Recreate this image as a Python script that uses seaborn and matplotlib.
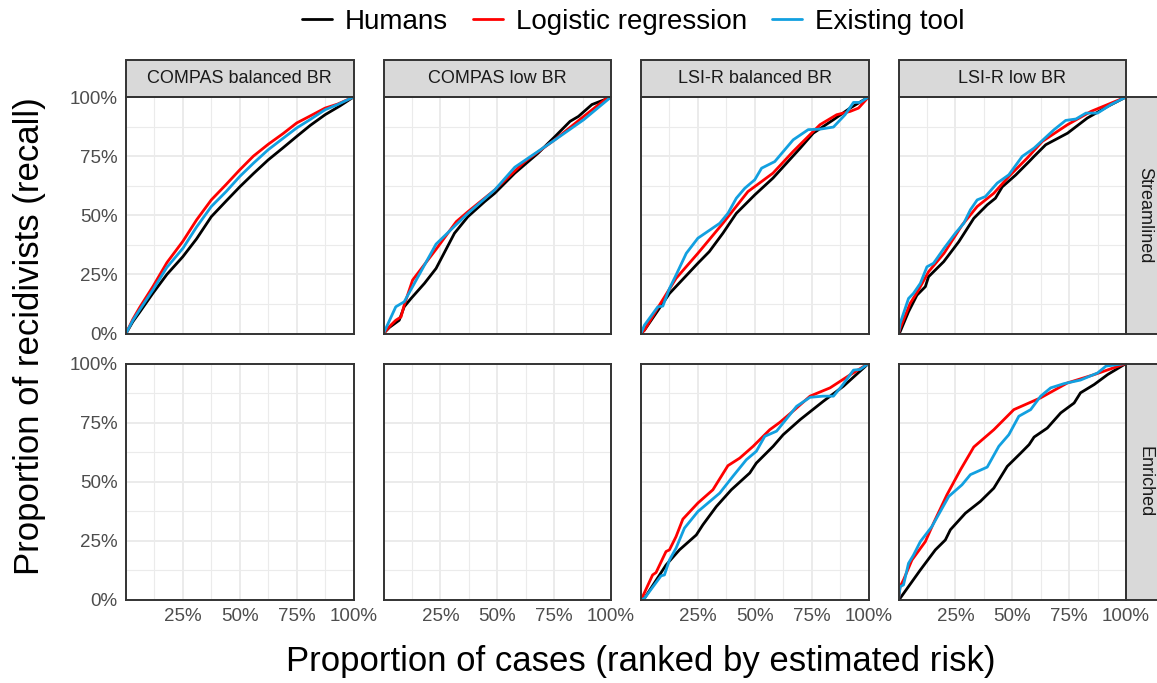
import matplotlib.pyplot as plt
import matplotlib.patches as mpatches
from matplotlib.lines import Line2D
import numpy as np
import pandas as pd
import seaborn as sns


# 1. categories
datasets = ['COMPAS balanced BR', 'COMPAS low BR', 'LSI-R balanced BR', 'LSI-R low BR']
conditions = ['Streamlined', 'Enriched']
methods = ['Humans', 'Logistic regression', 'Existing tool']
colors = ['#000000', '#FF0000', '#12A0E0']

# 2. curves (x = proportion of cases, y = recall)
#    COMPAS balanced BR, Streamlined
cb_s_hum_x = [0, 0.03, 0.06, 0.118, 0.18, 0.25, 0.31, 0.375, 0.44, 0.5, 0.56, 0.625, 0.69, 0.75, 0.81, 0.875, 0.94, 1]
cb_s_hum_y = [0, 0.05, 0.09, 0.17, 0.25, 0.325, 0.40, 0.494, 0.56, 0.62, 0.676, 0.734, 0.785, 0.833, 0.88, 0.925, 0.962, 1]
cb_s_log_x = [0, 0.03, 0.06, 0.118, 0.18, 0.25, 0.31, 0.375, 0.44, 0.5, 0.56, 0.625, 0.69, 0.75, 0.8, 0.875, 0.93, 1]
cb_s_log_y = [0, 0.06, 0.11, 0.198, 0.30, 0.39, 0.48, 0.565, 0.63, 0.692, 0.75, 0.80, 0.845, 0.89, 0.915, 0.953, 0.97, 1]
cb_s_ext_x = [0, 0.03, 0.06, 0.118, 0.18, 0.25, 0.31, 0.375, 0.44, 0.5, 0.56, 0.625, 0.69, 0.75, 0.81, 0.875, 0.93, 1]
cb_s_ext_y = [0, 0.055, 0.10, 0.184, 0.28, 0.36, 0.45, 0.537, 0.60, 0.664, 0.72, 0.777, 0.825, 0.869, 0.905, 0.946, 0.968, 1]

#    COMPAS low BR, Streamlined
cl_s_hum_x = [0, 0.025, 0.069, 0.091, 0.121, 0.18, 0.231, 0.312, 0.371, 0.445, 0.489, 0.577, 0.68, 0.754, 0.82, 0.857, 0.916, 0.975, 1]
cl_s_hum_y = [0, 0.025, 0.056, 0.113, 0.148, 0.212, 0.275, 0.424, 0.494, 0.558, 0.593, 0.678, 0.763, 0.833, 0.897, 0.918, 0.968, 0.99, 1]
cl_s_log_x = [0, 0.032, 0.054, 0.077, 0.091, 0.128, 0.231, 0.32, 0.371, 0.489, 0.621, 0.754, 0.88, 0.975, 1]
cl_s_log_y = [0, 0.035, 0.056, 0.07, 0.12, 0.226, 0.356, 0.473, 0.515, 0.607, 0.727, 0.82, 0.918, 0.99, 1]
cl_s_ext_x = [0, 0.054, 0.091, 0.231, 0.371, 0.489, 0.577, 0.754, 0.88, 1]
cl_s_ext_y = [0, 0.113, 0.134, 0.378, 0.508, 0.607, 0.703, 0.819, 0.904, 1]

#    LSI-R balanced BR, Streamlined
lb_s_hum_x = [0, 0.015, 0.125, 0.25, 0.30, 0.36, 0.419, 0.5, 0.58, 0.7, 0.757, 0.846, 0.919, 1]
lb_s_hum_y = [0, 0.014, 0.169, 0.297, 0.346, 0.424, 0.508, 0.586, 0.657, 0.784, 0.847, 0.904, 0.953, 1]
lb_s_log_x = [0, 0.015, 0.081, 0.154, 0.25, 0.36, 0.47, 0.58, 0.669, 0.787, 0.86, 0.919, 0.956, 1]
lb_s_log_y = [0, 0.014, 0.12, 0.233, 0.339, 0.466, 0.6, 0.678, 0.77, 0.883, 0.925, 0.939, 0.953, 1]
lb_s_ext_x = [0, 0.015, 0.037, 0.074, 0.096, 0.125, 0.154, 0.199, 0.25, 0.346, 0.382, 0.419, 0.456, 0.5,
              0.53, 0.588, 0.669, 0.735, 0.787, 0.846, 0.897, 0.934, 0.963, 1]
lb_s_ext_y = [0, 0.035, 0.064, 0.113, 0.116, 0.19, 0.247, 0.339, 0.403, 0.466, 0.508, 0.572, 0.614, 0.65,
              0.699, 0.727, 0.819, 0.862, 0.864, 0.873, 0.925, 0.977, 0.977, 1]

#    LSI-R low BR, Streamlined
ll_s_hum_x = [0, 0.007, 0.044, 0.081, 0.118, 0.132, 0.199, 0.265, 0.331, 0.39, 0.426, 0.456, 0.515, 0.574,
              0.596, 0.647, 0.743, 0.83, 0.919, 1]
ll_s_hum_y = [0, 0.007, 0.092, 0.162, 0.198, 0.24, 0.304, 0.388, 0.487, 0.544, 0.572, 0.62, 0.67, 0.727,
              0.749, 0.798, 0.847, 0.911, 0.96, 1]
ll_s_log_x = [0, 0.007, 0.051, 0.088, 0.132, 0.2, 0.28, 0.346, 0.419, 0.485, 0.566, 0.632, 0.743, 0.846, 0.919, 1]
ll_s_log_y = [0, 0.021, 0.127, 0.184, 0.261, 0.339, 0.459, 0.537, 0.593, 0.664, 0.742, 0.812, 0.883, 0.939, 0.968, 1]
ll_s_ext_x = [0, 0.007, 0.022, 0.044, 0.066, 0.096, 0.125, 0.154, 0.2, 0.25, 0.287, 0.316, 0.346, 0.382,
              0.434, 0.485, 0.544, 0.596, 0.684, 0.735, 0.78, 0.824, 0.875, 0.934, 1]
ll_s_ext_y = [0, 0.042, 0.085, 0.148, 0.17, 0.212, 0.282, 0.297, 0.36, 0.424, 0.466, 0.523, 0.565, 0.579,
              0.636, 0.671, 0.749, 0.784, 0.862, 0.901, 0.907, 0.932, 0.932, 0.968, 1]

#    LSI-R balanced BR, Enriched
lb_e_hum_x = [0, 0.015, 0.11, 0.169, 0.243, 0.272, 0.331, 0.397, 0.478, 0.507, 0.581, 0.625, 0.7, 0.801, 0.89, 1]
lb_e_hum_y = [0, 0.007, 0.148, 0.212, 0.275, 0.318, 0.395, 0.466, 0.537, 0.579, 0.65, 0.699, 0.763, 0.84, 0.904, 1]
lb_e_log_x = [0, 0.007, 0.051, 0.066, 0.11, 0.125, 0.154, 0.184, 0.25, 0.316, 0.382, 0.434, 0.493, 0.566,
              0.61, 0.676, 0.743, 0.831, 0.919, 1]
lb_e_log_y = [0, 0.014, 0.106, 0.116, 0.205, 0.212, 0.268, 0.342, 0.41, 0.466, 0.568, 0.6, 0.65, 0.72,
              0.751, 0.805, 0.862, 0.897, 0.952, 1]
lb_e_ext_x = [0, 0.015, 0.088, 0.103, 0.125, 0.154, 0.191, 0.25, 0.346, 0.404, 0.463, 0.507, 0.544, 0.596,
              0.684, 0.743, 0.8, 0.846, 0.882, 0.934, 0.963, 1]
lb_e_ext_y = [0, 0.007, 0.102, 0.106, 0.169, 0.219, 0.304, 0.374, 0.452, 0.523, 0.593, 0.629, 0.692, 0.714,
              0.819, 0.857, 0.862, 0.862, 0.904, 0.972, 0.975, 1]

#    LSI-R low BR, Enriched
ll_e_hum_x = [0, 0.007, 0.096, 0.162, 0.206, 0.228, 0.294, 0.36, 0.419, 0.478, 0.537, 0.574, 0.596, 0.654,
              0.713, 0.772, 0.8, 0.86, 0.919, 1]
ll_e_hum_y = [0, 0.007, 0.127, 0.212, 0.254, 0.297, 0.367, 0.417, 0.473, 0.565, 0.621, 0.657, 0.689, 0.727,
              0.791, 0.833, 0.876, 0.911, 0.953, 1]
ll_e_log_x = [0, 0.007, 0.022, 0.059, 0.118, 0.154, 0.213, 0.272, 0.331, 0.419, 0.507, 0.625, 0.743, 0.86, 1]
ll_e_log_y = [0, 0.056, 0.085, 0.169, 0.247, 0.325, 0.445, 0.55, 0.647, 0.72, 0.805, 0.855, 0.918, 0.953, 1]
ll_e_ext_x = [0, 0.007, 0.022, 0.044, 0.066, 0.096, 0.147, 0.221, 0.279, 0.316, 0.39, 0.441, 0.485, 0.529,
              0.581, 0.625, 0.669, 0.728, 0.8, 0.875, 0.912, 1]
ll_e_ext_y = [0, 0.056, 0.064, 0.155, 0.19, 0.247, 0.311, 0.438, 0.487, 0.53, 0.562, 0.65, 0.699, 0.777,
              0.805, 0.862, 0.897, 0.915, 0.93, 0.96, 0.989, 1]

curves = [
    (datasets[0], 'Streamlined', cb_s_hum_x, cb_s_hum_y, cb_s_log_x, cb_s_log_y, cb_s_ext_x, cb_s_ext_y),
    (datasets[1], 'Streamlined', cl_s_hum_x, cl_s_hum_y, cl_s_log_x, cl_s_log_y, cl_s_ext_x, cl_s_ext_y),
    (datasets[2], 'Streamlined', lb_s_hum_x, lb_s_hum_y, lb_s_log_x, lb_s_log_y, lb_s_ext_x, lb_s_ext_y),
    (datasets[3], 'Streamlined', ll_s_hum_x, ll_s_hum_y, ll_s_log_x, ll_s_log_y, ll_s_ext_x, ll_s_ext_y),
    (datasets[2], 'Enriched', lb_e_hum_x, lb_e_hum_y, lb_e_log_x, lb_e_log_y, lb_e_ext_x, lb_e_ext_y),
    (datasets[3], 'Enriched', ll_e_hum_x, ll_e_hum_y, ll_e_log_x, ll_e_log_y, ll_e_ext_x, ll_e_ext_y),
]

rows = []
for ds, cond, hx, hy, lx, ly, ex, ey in curves:
    for m, xs, ys in zip(methods, [hx, lx, ex], [hy, ly, ey]):
        for xv, yv in zip(xs, ys):
            rows.append({'dataset': ds, 'condition': cond, 'method': m, 'x': xv, 'y': yv})
df = pd.DataFrame(rows)

# 3. figure
sns.set_style('white')
plt.rcParams['font.family'] = ['Liberation Sans', 'DejaVu Sans']
plt.rcParams['text.color'] = 'black'

g = sns.FacetGrid(df, row='condition', col='dataset', row_order=conditions, col_order=datasets,
                  sharex=True, sharey=True, despine=False, height=3, aspect=1)
fig = g.figure
fig.set_size_inches(11.57, 6.83)
fig.set_dpi(100)
W, H = 1157, 683
fig.subplots_adjust(left=126 / W, right=1126 / W, bottom=1 - 600 / H, top=1 - 97 / H,
                    wspace=30 / 227.5, hspace=30 / 236.5)

border = '#333333'
ticks = [0, 0.25, 0.5, 0.75, 1]
pct = ['0%', '25%', '50%', '75%', '100%']

for (cond, ds), ax in g.axes_dict.items():
    sub = df[(df['condition'] == cond) & (df['dataset'] == ds)]
    if len(sub):
        sns.lineplot(data=sub, x='x', y='y', hue='method', hue_order=methods, palette=colors,
                     estimator=None, sort=False, linewidth=2, legend=False, ax=ax)
    ax.set_xlim(0, 1)
    ax.set_ylim(0, 1)
    ax.set_xticks(ticks[1:])
    ax.set_yticks(ticks)
    ax.set_xticks([0.125, 0.375, 0.625, 0.875], minor=True)
    ax.set_yticks([0.125, 0.375, 0.625, 0.875], minor=True)
    ax.grid(True, which='major', color='#EBEBEB', linewidth=1.4)
    ax.grid(True, which='minor', color='#EBEBEB', linewidth=0.8)
    ax.set_axisbelow(True)
    ax.set_title('')
    ax.set_xlabel('')
    ax.set_ylabel('')
    for s in ax.spines.values():
        s.set_color(border)
        s.set_linewidth(1.4)
    ax.tick_params(which='minor', length=0)
    ax.tick_params(which='major', color=border, width=1.3, length=4,
                   labelsize=13.5, labelcolor='#4D4D4D', pad=2)
    ax.set_xticklabels(pct[1:])
    ax.set_yticklabels(pct)
    if cond == 'Streamlined':
        ax.tick_params(axis='x', length=0, labelbottom=False)
        ax.add_patch(mpatches.Rectangle((0, 1), 1, 37 / 236.5, transform=ax.transAxes, clip_on=False,
                                        facecolor='#D9D9D9', edgecolor=border, linewidth=1.4))
        ax.text(0.5, 1 + 18.5 / 236.5, ds, transform=ax.transAxes, ha='center', va='center',
                fontsize=13, color='#1A1A1A')
    if ds != datasets[0]:
        ax.tick_params(axis='y', length=0, labelleft=False)
    if ds == datasets[-1]:
        ax.add_patch(mpatches.Rectangle((1, 0), 37 / 227.5, 1, transform=ax.transAxes, clip_on=False,
                                        facecolor='#D9D9D9', edgecolor=border, linewidth=1.4))
        ax.text(1 + 18.5 / 227.5, 0.5, cond, transform=ax.transAxes, ha='center', va='center',
                rotation=-90, fontsize=13, color='#1A1A1A')

fig.text(641 / W, 1 - 662 / H, 'Proportion of cases (ranked by estimated risk)',
         ha='center', va='center', fontsize=25, color='black')
fig.text(30 / W, 1 - 336 / H, 'Proportion of recidivists (recall)',
         ha='center', va='center', rotation=90, fontsize=25, color='black')

handles = [Line2D([], [], color=c, linewidth=2) for c in colors]
fig.legend(handles, methods, loc='center', bbox_to_anchor=(633 / W, 1 - 22 / H), ncol=3,
           frameon=False, fontsize=20, handlelength=1.1, handletextpad=0.45, columnspacing=0.9,
           labelcolor='black')

fig.savefig('out.png', dpi=100)
